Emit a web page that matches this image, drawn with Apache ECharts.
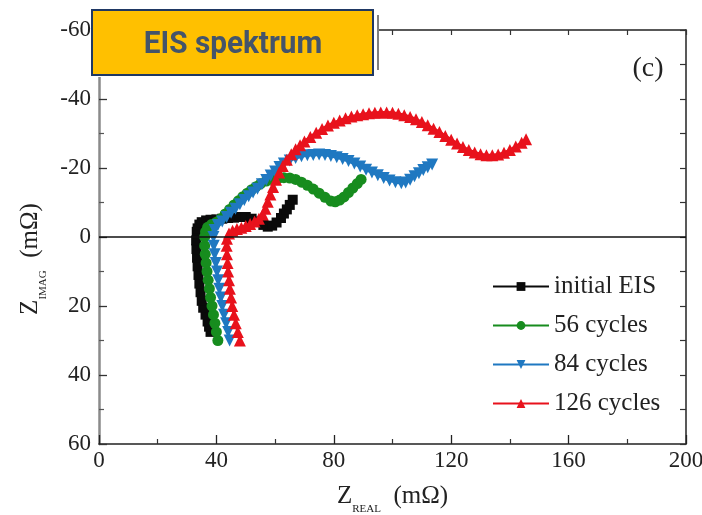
<!DOCTYPE html>
<html>
<head>
<meta charset="utf-8">
<script src="https://cdn.jsdelivr.net/npm/echarts@6/dist/echarts.min.js"></script>
<style>
html,body{margin:0;padding:0;background:#fff;}
#c{width:702px;height:515px;}
</style>
</head>
<body>
<div id="c"></div>
<script>
// ---- data (Z_REAL in mΩ, Z_IMAG in mΩ; negative = upper half) ----
var seriesNames = ['initial EIS', '56 cycles', '84 cycles', '126 cycles'];
var xTicks = [0, 40, 80, 120, 160, 200];
var yTicks = [-60, -40, -20, 0, 20, 40, 60];

var initX = [38, 37.5, 37, 36.3, 35.5, 35, 34.6, 34.2, 33.9, 33.6, 33.4, 33.2, 33.1, 33.3, 33.6, 34.2, 35, 36.5, 38, 40, 42, 44, 46, 48, 50, 52, 54, 56, 57.5, 59, 60.5, 62, 63, 64, 65, 66];
var initY = [27.5, 26, 24.5, 22.5, 20.5, 18.5, 16, 13.5, 11, 8.5, 6, 3.5, 1, -1.5, -2.5, -3.6, -4.3, -4.8, -5, -5.1, -5.3, -5.5, -5.6, -5.8, -5.8, -5.3, -4.5, -3.5, -3, -3.3, -4.2, -5.5, -6.8, -8, -9.3, -10.8];

var c56X = [40.5, 40, 39.5, 39, 38.5, 38, 37.6, 37.2, 36.8, 36.5, 36.2, 36, 36, 36.3, 37, 38.3, 40, 41.5, 43, 44.5, 46, 47.5, 49, 50.5, 52, 53.5, 55, 57, 59, 61, 63, 65, 67, 69, 71, 73, 75, 77, 79, 80.5, 82, 83.5, 85, 86.5, 88, 89.3];
var c56Y = [30, 27.5, 25, 22.5, 20, 17.5, 15, 12.5, 10, 7.5, 5, 2.5, 0, -1.5, -2.8, -3.6, -4.3, -5.3, -6.7, -8, -9.3, -10.5, -11.7, -12.7, -13.7, -14.6, -15.4, -16.2, -16.7, -17, -17.2, -17.1, -16.7, -15.9, -15, -13.9, -12.7, -11.5, -10.4, -10.2, -10.7, -11.6, -12.9, -14.2, -15.5, -16.7];

var c84X = [44.5, 44, 43.3, 42.6, 42, 41.5, 41, 40.6, 40.2, 39.8, 39.4, 39.1, 39, 39.4, 40.5, 42, 43.5, 45, 46.5, 48, 49.5, 51, 52.5, 54, 55.5, 57, 58.5, 60, 61.5, 63, 65, 67, 69, 71, 73, 75, 77, 79, 81, 83, 85, 87, 89, 91, 93, 95, 97, 99, 101, 103, 104.5, 106, 107.5, 109, 110.5, 112, 113.5];
var c84Y = [30, 27.5, 25, 22.5, 20, 17.5, 15, 12.5, 10, 7.5, 5, 2.5, 0, -2, -3.5, -4.5, -5.8, -7, -8.2, -9.5, -10.7, -11.8, -12.9, -14, -15.3, -16.5, -17.8, -19, -20.3, -21.3, -22.2, -22.9, -23.4, -23.7, -23.8, -23.9, -23.8, -23.5, -23.1, -22.6, -22, -21.3, -20.4, -19.5, -18.7, -17.9, -17.1, -16.4, -15.9, -15.6, -15.8, -16.6, -17.6, -18.5, -19.4, -20.2, -21];

var c126X = [48, 47.3, 46.6, 46, 45.4, 45, 44.6, 44.3, 44, 43.8, 43.6, 43.5, 43.6, 44.3, 45.5, 47, 48.5, 50, 51.5, 53, 54.5, 55.8, 56.7, 57.5, 58.4, 59.3, 60.3, 61.4, 62.6, 64, 65.5, 67, 68.5, 70, 72, 74, 76, 78, 80, 82, 84, 86, 88, 90, 92, 94, 96, 98, 100, 102, 104, 106, 108, 110, 112, 114, 116, 118, 120, 122, 124, 126, 128, 130, 132, 134, 136, 138, 140, 142, 144, 145.5];
var c126Y = [30, 27.5, 25, 22.5, 20, 17.5, 15, 12.5, 10, 7.5, 5, 2.5, 0.5, -1, -1.8, -2.3, -2.7, -3.2, -3.8, -4.5, -5.3, -6.5, -8.2, -10.2, -12.3, -14.5, -16.6, -18.7, -20.6, -22.4, -24, -25.4, -26.6, -27.7, -29, -30.2, -31.3, -32.3, -33.1, -33.8, -34.4, -34.9, -35.3, -35.6, -35.9, -36, -36.1, -36.1, -36, -35.7, -35.3, -34.8, -34.1, -33.3, -32.4, -31.4, -30.4, -29.3, -28.2, -27.1, -26.1, -25.2, -24.5, -24, -23.7, -23.7, -23.9, -24.4, -25.2, -26.2, -27.3, -28.3];

function pairs(xs, ys) { return xs.map(function (v, i) { return [v, ys[i]]; }); }

var serif = "'Liberation Serif', 'DejaVu Serif', serif";
var chart = echarts.init(document.getElementById('c'), null, {renderer: 'canvas'});

function mk(name, xs, ys, color, symbol, size, rot) {
  return {
    name: name, type: 'line', data: pairs(xs, ys),
    xAxisIndex: 0, yAxisIndex: 0,
    symbol: symbol, symbolSize: size, symbolRotate: rot || 0, showSymbol: true,
    itemStyle: {color: color}, lineStyle: {color: color, width: 3},
    emphasis: {disabled: true}
  };
}

var s0 = mk(seriesNames[0], initX, initY, '#0a0a0a', 'rect', 10);
s0.markLine = {
  silent: true, symbol: 'none', label: {show: false},
  lineStyle: {color: '#111', width: 1.5, type: 'solid'},
  data: [{yAxis: 0}]
};

var option = {
  animation: false,
  backgroundColor: '#fff',
  grid: {left: 99, right: 16, top: 30, bottom: 71, containLabel: false, outerBoundsMode: 'none'},
  xAxis: [{
    type: 'value', position: 'bottom', min: xTicks[0], max: xTicks[xTicks.length - 1], interval: 40,
    name: '{m|Z}{s|REAL}{m|  (mΩ)}', nameLocation: 'middle', nameGap: 40,
    nameTextStyle: {fontFamily: serif, fontSize: 25, color: '#222',
      rich: {m: {fontFamily: serif, fontSize: 25, color: '#222'},
             s: {fontFamily: serif, fontSize: 11, color: '#222', verticalAlign: 'bottom', padding: [0, 0, -6, 0]}}},
    axisLine: {show: true, onZero: false, lineStyle: {color: '#222', width: 1.5}},
    axisTick: {show: true, inside: true, length: 9, lineStyle: {color: '#222', width: 1.3}},
    minorTick: {show: true, splitNumber: 2, length: 5, lineStyle: {color: '#333', width: 1.2}},
    axisLabel: {fontFamily: serif, fontSize: 23, color: '#222', margin: 5},
    splitLine: {show: false}
  }, {
    type: 'value', position: 'top', min: 0, max: 200, interval: 20,
    axisLine: {show: true, onZero: false, lineStyle: {color: '#222', width: 1.5}},
    axisTick: {show: true, inside: true, length: 5, lineStyle: {color: '#333', width: 1.2}},
    axisLabel: {show: false}, splitLine: {show: false}
  }],
  yAxis: [{
    type: 'value', position: 'left', min: yTicks[0], max: yTicks[yTicks.length - 1], interval: 20, inverse: true,
    name: '{m|Z}{s|IMAG}{m|  (mΩ)}', nameLocation: 'middle', nameGap: 56,
    nameTextStyle: {fontFamily: serif, fontSize: 25, color: '#222', padding: [0, 44, 0, 0],
      rich: {m: {fontFamily: serif, fontSize: 25, color: '#222'},
             s: {fontFamily: serif, fontSize: 11, color: '#222', verticalAlign: 'bottom', padding: [0, 0, -6, 0]}}},
    axisLine: {show: true, onZero: false, lineStyle: {color: '#8a8a8a', width: 2.5}},
    axisTick: {show: true, inside: true, length: 8, lineStyle: {color: '#333', width: 1.3}},
    minorTick: {show: true, splitNumber: 2, length: 5, lineStyle: {color: '#555', width: 1.2}},
    axisLabel: {fontFamily: serif, fontSize: 23, color: '#222', margin: 8},
    splitLine: {show: false}
  }, {
    type: 'value', position: 'right', min: -60, max: 60, interval: 10, inverse: true,
    axisLine: {show: true, onZero: false, lineStyle: {color: '#222', width: 1.5}},
    axisTick: {show: true, inside: true, length: 6, lineStyle: {color: '#333', width: 1.2}},
    axisLabel: {show: false}, splitLine: {show: false}
  }],
  legend: {
    orient: 'vertical', left: 487, top: 269,
    itemWidth: 56, itemHeight: 11, itemGap: 14,
    textStyle: {fontFamily: serif, fontSize: 25, color: '#222'},
    data: seriesNames
  },
  series: [
    s0,
    mk(seriesNames[1], c56X, c56Y, '#178c1e', 'circle', 11),
    mk(seriesNames[2], c84X, c84Y, '#1f78c1', 'triangle', 12, 180),
    mk(seriesNames[3], c126X, c126Y, '#e8121c', 'triangle', 12)
  ],
  graphic: [
    {type: 'rect', z: 100, shape: {x: 92, y: 8, width: 287, height: 69}, style: {fill: '#fff'}},
    {type: 'line', z: 101, shape: {x1: 378, y1: 15, x2: 378, y2: 70}, style: {stroke: '#555', lineWidth: 1.5}},
    {type: 'rect', z: 102, shape: {x: 92, y: 10, width: 281, height: 65}, style: {fill: '#FFC000', stroke: '#1F3864', lineWidth: 2}},
    {type: 'text', z: 103, x: 233, y: 45, scaleX: 0.93,
      style: {text: 'EIS spektrum', fill: '#44546A', font: "bold 32px Roboto, 'Noto Sans', sans-serif", textAlign: 'center', textVerticalAlign: 'middle'}},
    {type: 'text', z: 103, x: 648, y: 69,
      style: {text: '(c)', fill: '#222', font: "28px 'Liberation Serif', serif", textAlign: 'center', textVerticalAlign: 'middle'}}
  ]
};
chart.setOption(option);
</script>
</body>
</html>
